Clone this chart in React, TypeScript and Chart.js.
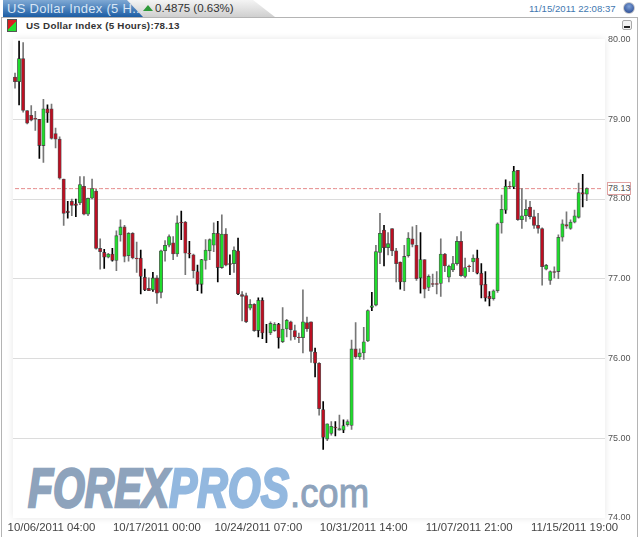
import React, { useEffect, useRef } from "react";
import { Chart, registerables } from "chart.js";

Chart.register(...registerables);

const opens = [
  79.53,79.47,79.76,79.11,79.05,79.01,79.00,78.67,79.13,79.13,
  78.82,78.75,78.25,77.85,77.97,77.94,77.95,78.16,77.81,78.01,
  78.10,77.38,77.33,77.27,77.31,77.23,77.55,77.65,77.29,77.57,
  77.26,77.26,77.02,76.88,76.86,77.01,76.83,77.35,77.42,77.45,
  77.31,77.71,77.71,77.32,77.30,77.09,76.93,77.23,77.35,77.42,
  77.57,77.14,77.56,77.19,77.19,77.35,76.80,76.79,76.63,76.68,
  76.35,76.73,76.32,76.32,76.35,76.43,76.21,76.37,76.46,76.35,
  76.27,76.26,76.45,76.46,76.08,75.94,75.36,74.99,75.06,75.14,
  75.10,75.10,75.17,75.16,76.12,76.02,76.07,76.22,76.64,76.67,
  77.33,77.61,77.39,77.63,77.35,77.21,76.96,77.29,77.50,77.42,
  77.01,77.24,76.89,76.94,76.94,76.94,77.31,77.02,77.11,77.19,
  77.47,77.03,77.16,77.21,77.26,77.07,76.93,76.78,76.75,76.85,
  77.70,77.86,78.16,78.15,78.36,77.74,77.79,77.90,77.78,77.67,
  77.63,77.12,76.98,77.09,77.09,77.52,77.68,77.63,77.71,77.77,
  78.08,78.06,
];
const closes = [
  79.47,79.76,79.11,78.95,78.99,79.00,78.67,79.13,79.08,78.76,
  78.75,78.26,77.82,77.83,77.92,77.92,78.18,77.81,78.01,78.13,
  77.38,77.34,77.27,77.31,77.23,77.54,77.65,77.28,77.57,77.26,
  77.25,77.03,76.86,76.85,77.01,76.82,77.35,77.42,77.53,77.31,
  77.70,77.70,77.32,77.31,77.10,76.93,77.24,77.36,77.49,77.57,
  77.14,77.56,77.17,77.18,77.36,76.81,76.78,76.46,76.68,76.35,
  76.73,76.32,76.32,76.44,76.43,76.26,76.37,76.48,76.36,76.27,
  76.26,76.46,76.37,76.09,75.94,75.37,75.01,75.18,75.15,75.13,
  75.12,75.16,75.21,76.12,76.02,76.07,76.21,76.60,76.66,77.34,
  77.57,77.39,77.44,77.35,77.19,76.96,77.28,77.51,77.43,77.00,
  77.24,76.87,77.03,76.93,76.93,77.31,77.16,77.16,77.19,77.47,
  77.04,77.14,77.15,77.26,77.07,76.92,76.76,76.75,76.85,77.69,
  77.87,78.16,78.15,78.35,77.74,77.79,77.87,77.78,77.67,77.63,
  77.15,77.17,77.09,77.08,77.52,77.69,77.66,77.71,77.79,78.08,
  78.06,78.13,
];
const highs = [
  79.58,79.98,79.96,79.11,79.17,79.10,79.00,79.25,79.18,79.19,
  78.89,78.78,78.25,77.97,78.00,78.00,78.28,78.28,78.01,78.25,
  78.12,77.50,77.37,77.32,77.38,77.60,77.74,77.67,77.58,77.58,
  77.46,77.36,77.12,77.01,77.08,77.04,77.36,77.48,77.55,77.53,
  77.79,77.85,77.72,77.47,77.31,77.17,77.24,77.49,77.50,77.70,
  77.72,77.80,77.63,77.30,77.40,77.51,76.84,76.82,76.74,76.69,
  76.76,76.76,76.43,76.46,76.45,76.44,76.64,76.49,76.47,76.42,
  76.32,76.86,76.52,76.46,76.13,75.95,75.46,75.18,75.21,75.21,
  75.29,75.23,75.23,76.23,76.45,76.12,76.39,76.61,76.83,77.42,
  77.82,77.67,77.58,77.63,77.38,77.21,77.42,77.58,77.65,77.67,
  77.58,77.24,77.05,77.06,77.09,77.50,77.32,77.17,77.28,77.53,
  77.59,77.26,77.17,77.30,77.36,77.19,77.09,76.84,76.86,77.70,
  78.05,78.24,78.22,78.41,78.36,78.13,77.99,77.97,77.86,77.82,
  77.64,77.18,77.10,77.15,77.55,77.74,77.84,77.74,77.86,78.20,
  78.31,78.14,
];
const lows = [
  79.39,79.18,79.09,78.94,78.98,78.86,78.51,78.46,78.96,78.75,
  78.64,78.25,77.67,77.76,77.79,77.78,77.93,77.80,77.79,78.00,
  77.37,77.12,77.13,77.26,77.22,77.10,77.47,77.21,77.22,77.25,
  77.08,76.81,76.85,76.85,76.84,76.69,76.76,77.22,77.40,77.24,
  77.28,77.49,77.05,77.26,77.01,76.85,76.82,77.12,77.24,77.34,
  76.96,77.13,77.16,77.05,77.08,76.80,76.47,76.45,76.61,76.34,
  76.27,76.25,76.20,76.30,76.34,76.13,76.20,76.27,76.23,76.24,
  76.20,76.07,76.34,75.95,75.77,75.29,74.86,74.97,75.04,75.03,
  75.10,75.07,75.15,75.11,76.00,75.99,75.99,76.21,76.60,76.66,
  77.19,77.16,77.30,77.29,76.96,76.87,76.85,77.27,77.40,76.98,
  76.82,76.76,76.85,76.90,76.81,76.78,77.09,76.96,77.09,77.17,
  77.03,77.01,77.09,77.09,77.06,76.76,76.72,76.66,76.73,76.83,
  77.57,77.82,78.13,78.13,77.73,77.63,77.72,77.75,77.63,77.57,
  76.92,77.11,76.93,77.01,77.00,77.47,77.63,77.62,77.70,77.76,
  77.90,77.98,
];
// candle numbers (1-based) whose wicks read as black rather than grey
const darkWicks = [2,7,9,14,16,23,25,32,33,35,42,44,46,47,51,54,56,61,62,63,66,75,77,80,82,89,92,96,101,115,116,117,118,122,124,141];
const tickIndexes = [9, 35, 60, 86, 112, 138];
const tickTexts = ["10/06/2011 04:00","10/17/2011 00:00","10/24/2011 07:00","10/31/2011 14:00","11/07/2011 21:00","11/15/2011 19:00"];
const lastPrice = 78.13;
const slotCount = 146;

const labels = Array.from({ length: slotCount }, (_, i) => {
  const k = tickIndexes.indexOf(i);
  return k >= 0 ? tickTexts[k] : "";
});

const FONT = "Arial, 'Liberation Sans', sans-serif";
const abs = (o: React.CSSProperties): React.CSSProperties => ({ position: "absolute", ...o });

export default function App() {
  const ref = useRef<HTMLCanvasElement>(null);
  useEffect(() => {
    document.body.style.margin = "0";
    const chart = new Chart(ref.current!, {
      type: "bar",
      data: {
        labels,
        datasets: [
          {
            label: "body",
            data: opens.map((o, i) => [o, closes[i]]),
            barThickness: 3.4,
            grouped: false,
            borderSkipped: false,
            borderWidth: 0.8,
            borderColor: "rgba(50,50,50,0.8)",
            backgroundColor: opens.map((o, i) => (closes[i] >= o ? "#1fdc2c" : "#bb0f22")),
          },
          {
            label: "wick",
            data: lows.map((l, i) => [l, highs[i]]),
            barThickness: 1,
            grouped: false,
            borderWidth: 0,
            backgroundColor: lows.map((_, i) => (darkWicks.includes(i + 1) ? "#000000" : "#777777")),
          },
          {
            type: "line",
            label: "last",
            data: labels.map(() => lastPrice),
            borderColor: "#e58a8a",
            borderWidth: 1,
            borderDash: [4, 2],
            pointRadius: 0,
          },
        ] as any,
      },
      options: {
        responsive: false,
        animation: false,
        layout: { padding: { top: 39.5, left: 13, right: 0, bottom: 0 } },
        plugins: { legend: { display: false }, tooltip: { enabled: false } },
        scales: {
          x: {
            type: "category",
            grid: { display: false, drawTicks: false },
            border: { display: false },
            ticks: {
              autoSkip: false,
              maxRotation: 0,
              padding: 3,
              color: "#444",
              font: { family: FONT, size: 11.4 },
            },
            afterFit: (s: any) => { s.height = 19; },
          },
          y: {
            position: "right",
            min: 74,
            max: 80,
            grid: {
              drawTicks: false,
              lineWidth: 1,
              color: (c: any) => (c.tick && (c.tick.value === 74 || c.tick.value === 80) ? "rgba(0,0,0,0)" : "#dcdcdc"),
            },
            border: { display: false },
            ticks: {
              stepSize: 1,
              padding: 3,
              color: "#555",
              font: { family: FONT, size: 9 },
              callback: (v: any) => Number(v).toFixed(2),
            },
            afterFit: (s: any) => { s.width = 35; },
          },
        },
      },
    });
    return () => chart.destroy();
  }, []);

  return (
    <div style={abs({ left: 0, top: 0, width: 640, height: 537, overflow: "hidden", background: "#fff", fontFamily: FONT })}>
      {/* frame */}
      <div style={abs({ left: 1, top: 17, width: 637, height: 530, border: "1px solid #b4b4b4", boxSizing: "border-box" })} />
      {/* tab */}
      <div style={abs({ left: 3, top: 0, width: 272, height: 17, clipPath: "polygon(0 0,250px 0,272px 17px,0 17px)", background: "linear-gradient(#f4f4f4,#cfcfcf)" })} />
      <div style={abs({ left: 3, top: 0, width: 140, height: 17, clipPath: "polygon(0 0,124px 0,140px 17px,0 17px)", background: "linear-gradient(#7fa9d4,#1b5ca4)" })} />
      <div style={abs({ left: 7, top: 0, lineHeight: "17px", fontSize: 13, color: "#d8e6f5", whiteSpace: "nowrap", letterSpacing: 0.3 })}>US Dollar Index (5 H...</div>
      <div style={abs({ left: 143, top: 5, width: 0, height: 0, borderLeft: "5px solid transparent", borderRight: "5px solid transparent", borderBottom: "6px solid #2f9a3a" })} />
      <div style={abs({ left: 155, top: 0, lineHeight: "17px", fontSize: 11.5, color: "#333", whiteSpace: "nowrap" })}>0.4875 (0.63%)</div>
      <div style={abs({ left: 529, top: 2, lineHeight: "13px", fontSize: 9.6, color: "#3f78b0", whiteSpace: "nowrap" })}>11/15/2011 22:08:37</div>
      <div style={abs({ left: 623, top: 2, width: 12, height: 12, borderRadius: 6, background: "radial-gradient(circle at 50% 35%,#7da0d8,#1f3f88)", border: "1px solid #ccc", boxSizing: "border-box" })} />
      {/* legend */}
      <div style={abs({ left: 7, top: 19, width: 10, height: 13, background: "linear-gradient(135deg,#d62020 50%,#22e030 50%)", border: "1px solid #555", boxSizing: "border-box" })} />
      <div style={abs({ left: 26, top: 20, lineHeight: "12px", fontSize: 9.8, fontWeight: 700, color: "#333", whiteSpace: "nowrap", letterSpacing: 0.25 })}>US Dollar Index (5 Hours):78.13</div>
      <div style={abs({ left: 622, top: 20, width: 10, height: 10, border: "1px solid #aaa", borderRadius: 2, boxSizing: "border-box", background: "#f2f2f2" })}>
        <div style={abs({ left: 1, top: 5, width: 6, height: 2, background: "#222" })} />
      </div>
      {/* plot shade */}
      <div style={abs({ left: 13, top: 39, width: 592, height: 479, boxShadow: "0 0 7px #e6e6e6", background: "#fff" })} />
      {/* watermark */}
      <svg width={640} height={537} style={abs({ left: 0, top: 0 })}>
        <g fontFamily={FONT} fontStyle="italic" fontWeight={700} fontSize={55}>
          <text x={28} y={507} textLength={141} lengthAdjust="spacingAndGlyphs" fill="#8ea3bc" stroke="#8ea3bc" strokeWidth={2.5}>FOREX</text>
          <text x={169} y={507} textLength={120} lengthAdjust="spacingAndGlyphs" fill="#93b8df" stroke="#93b8df" strokeWidth={2.5}>PROS</text>
        </g>
        <text x={290} y={507} textLength={79} lengthAdjust="spacingAndGlyphs" fontFamily={FONT} fontSize={40} fill="#8ea3bc" stroke="#8ea3bc" strokeWidth={1}>.com</text>
      </svg>
      <canvas ref={ref} width={640} height={537} style={abs({ left: 0, top: 0 })} />
      {/* last price tag */}
      <div style={abs({ left: 607, top: 182, width: 24, height: 13, border: "1px solid #e0a3a3", boxSizing: "border-box", background: "#fff", fontSize: 9, lineHeight: "11px", textAlign: "center", color: "#555" })}>78.13</div>
    </div>
  );
}
